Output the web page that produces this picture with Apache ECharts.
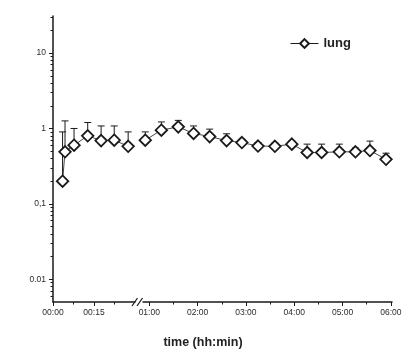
<!DOCTYPE html>
<html><head><meta charset="utf-8">
<script src="https://cdn.jsdelivr.net/npm/echarts@6/dist/echarts.min.js"></script>
<style>html,body{margin:0;padding:0;background:#fff}#c{width:415px;height:361px}</style>
</head><body><div id="c"></div>
<script>
// time in minutes, before the axis break
const timesEarly = [3.5, 4.4, 7.7, 12.7, 17.6, 22.4, 27.5];
const lungEarly  = [0.2, 0.49, 0.6, 0.8, 0.69, 0.7, 0.58];
const upperEarly = [0.9, 1.26, 1.0, 1.2, 1.08, 1.08, 0.9];
// time in minutes, after the axis break
const timesLate = [55, 75, 96, 115, 135, 156, 175, 195, 216, 237, 256, 274, 296, 316, 334, 354];
const lungLate  = [0.7, 0.95, 1.05, 0.86, 0.78, 0.69, 0.65, 0.585, 0.58, 0.62, 0.48, 0.48, 0.49, 0.49, 0.51, 0.39];
const upperLate = [0.9, 1.22, 1.28, 1.08, 0.98, 0.85, 0.72, 0.65, 0.64, 0.68, 0.62, 0.62, 0.62, 0.55, 0.68, 0.47];

const xTicksEarly = [0, 15];
const xLabelsEarly = ['00:00', '00:15'];
const xMinorEarly = [7.5, 22.5];
const xTicksLate = [60, 120, 180, 240, 300, 360];
const xLabelsLate = ['01:00', '02:00', '03:00', '04:00', '05:00', '06:00'];
const xMinorLate = [90, 150, 210, 270, 330];
const yTicks = [0.01, 0.1, 1, 10];
const yLabels = ['0.01', '0,1', '1', '10'];
const yMinor = [0.006, 0.007, 0.008, 0.009, 0.02, 0.03, 0.04, 0.05, 0.06, 0.07, 0.08, 0.09,
  0.2, 0.3, 0.4, 0.5, 0.6, 0.7, 0.8, 0.9, 2, 3, 4, 5, 6, 7, 8, 9, 20, 30];

const INK = '#1a1a1a';
const FONT = '"Liberation Sans", Arial, sans-serif';
const YMIN = 0.005, YMAX = 31;

const zip = (a, b) => a.map((v, i) => [v, b[i]]);
const zip3 = (a, b, c) => a.map((v, i) => [v, b[i], c[i]]);

function labelFmt(ticks, labels) {
  return v => { const i = ticks.findIndex(t => Math.abs(t - v) < 1e-9 * Math.max(1, Math.abs(t))); return i >= 0 ? labels[i] : ''; };
}

function errBar(params, api) {
  const x = api.value(0), y = api.value(1), up = api.value(2);
  const p0 = api.coord([x, y]), p1 = api.coord([x, up]);
  const w = 3.5;
  const st = { stroke: INK, lineWidth: 1 };
  return { type: 'group', children: [
    { type: 'line', shape: { x1: p0[0], y1: p0[1], x2: p1[0], y2: p1[1] }, style: st },
    { type: 'line', shape: { x1: p1[0] - w, y1: p1[1], x2: p1[0] + w, y2: p1[1] }, style: st }
  ]};
}

const axisLineStyle = { show: true, lineStyle: { color: INK, width: 1.5 } };
const labelStyle = { color: '#2a2a2a', fontFamily: FONT, fontSize: 8.5 };

const chart = echarts.init(document.getElementById('c'), null, { renderer: 'canvas' });
chart.setOption({
  animation: false,
  backgroundColor: '#fff',
  grid: [
    { left: 53, top: 16, width: 82, bottom: 59 },
    { left: 143, top: 16, width: 249, bottom: 59 }
  ],
  xAxis: [
    { type: 'value', gridIndex: 0, position: 'bottom', min: 0, max: 30, axisLine: axisLineStyle,
      axisTick: { show: true, customValues: xTicksEarly, length: 4, lineStyle: { color: INK, width: 1 } },
      axisLabel: Object.assign({ customValues: xTicksEarly, formatter: labelFmt(xTicksEarly, xLabelsEarly), margin: 6 }, labelStyle),
      splitLine: { show: false } },
    { type: 'value', gridIndex: 1, position: 'bottom', min: 52.2, max: 361.4, axisLine: axisLineStyle,
      axisTick: { show: true, customValues: xTicksLate, length: 4, lineStyle: { color: INK, width: 1 } },
      axisLabel: Object.assign({ customValues: xTicksLate, formatter: labelFmt(xTicksLate, xLabelsLate), margin: 6 }, labelStyle),
      splitLine: { show: false } },
    { type: 'value', gridIndex: 0, position: 'bottom', offset: 0, min: 0, max: 30, axisLine: { show: false },
      axisTick: { show: true, customValues: xMinorEarly, length: 2.5, lineStyle: { color: INK, width: 1 } },
      axisLabel: { show: false }, splitLine: { show: false } },
    { type: 'value', gridIndex: 1, position: 'bottom', offset: 0, min: 52.2, max: 361.4, axisLine: { show: false },
      axisTick: { show: true, customValues: xMinorLate, length: 2.5, lineStyle: { color: INK, width: 1 } },
      axisLabel: { show: false }, splitLine: { show: false } }
  ],
  yAxis: [
    { type: 'log', logBase: 10, gridIndex: 0, position: 'left', min: YMIN, max: YMAX, axisLine: axisLineStyle,
      axisTick: { show: true, customValues: yTicks, length: 4, lineStyle: { color: INK, width: 1 } },
      axisLabel: Object.assign({ customValues: yTicks, formatter: labelFmt(yTicks, yLabels), margin: 7 }, labelStyle),
      splitLine: { show: false } },
    { type: 'log', logBase: 10, gridIndex: 1, min: YMIN, max: YMAX, show: false },
    { type: 'log', logBase: 10, gridIndex: 0, position: 'left', offset: 0, min: YMIN, max: YMAX, axisLine: { show: false },
      axisTick: { show: true, customValues: yMinor, length: 2.5, lineStyle: { color: INK, width: 1 } },
      axisLabel: { show: false }, splitLine: { show: false } }
  ],
  legend: {
    data: ['lung'], left: 285, top: 32, itemWidth: 28, itemHeight: 11, itemGap: 4,
    lineStyle: { width: 1 },
    textStyle: { fontFamily: FONT, fontSize: 13, fontWeight: 'bold', color: '#222' }
  },
  graphic: [
    { type: 'line', shape: { x1: 132, y1: 306, x2: 137.5, y2: 298 }, style: { stroke: INK, lineWidth: 1.2 } },
    { type: 'line', shape: { x1: 137, y1: 306, x2: 142.5, y2: 298 }, style: { stroke: INK, lineWidth: 1.2 } },
    { type: 'text', x: 203, y: 336, style: { text: 'time (hh:min)', fontFamily: FONT, fontSize: 12.5, fontWeight: 'bold', fill: '#222', textAlign: 'center' } }
  ],
  series: [
    { type: 'custom', name: 'errA', xAxisIndex: 0, yAxisIndex: 0, renderItem: errBar,
      encode: { x: 0, y: [1, 2] }, data: zip3(timesEarly, lungEarly, upperEarly), z: 1 },
    { type: 'custom', name: 'errB', xAxisIndex: 1, yAxisIndex: 1, renderItem: errBar,
      encode: { x: 0, y: [1, 2] }, data: zip3(timesLate, lungLate, upperLate), z: 1 },
    { type: 'line', name: 'lung', xAxisIndex: 0, yAxisIndex: 0, data: zip(timesEarly, lungEarly),
      symbol: 'diamond', symbolSize: 11.5, showAllSymbol: true,
      itemStyle: { color: '#fff', borderColor: INK, borderWidth: 1.8 },
      lineStyle: { color: INK, width: 0.8 }, z: 3 },
    { type: 'line', name: 'lung', xAxisIndex: 1, yAxisIndex: 1, data: zip(timesLate, lungLate),
      symbol: 'diamond', symbolSize: 11.5, showAllSymbol: true,
      itemStyle: { color: '#fff', borderColor: INK, borderWidth: 1.8 },
      lineStyle: { color: INK, width: 0.8 }, z: 3 }
  ]
});
</script></body></html>
